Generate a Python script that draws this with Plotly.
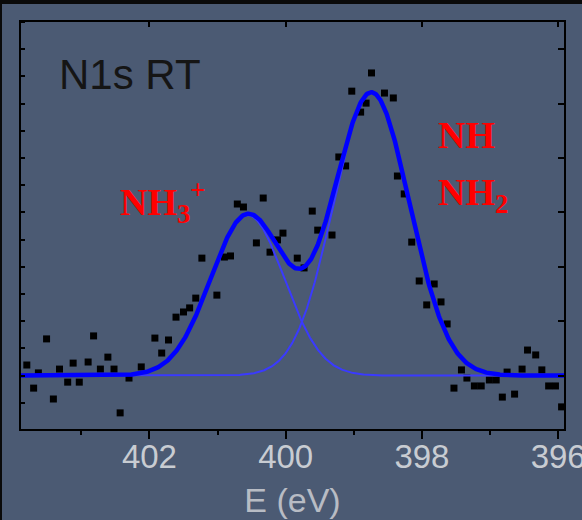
import numpy as np
import plotly.graph_objects as go

# Measured N 1s spectrum (binding energy in eV, intensity in arbitrary units)
energy_ev = [
    403.80, 403.70, 403.63, 403.51, 403.41, 403.32, 403.20, 403.12, 403.03, 402.90,
    402.82, 402.72, 402.61, 402.52, 402.43, 402.30, 402.12, 401.92, 401.82, 401.72,
    401.61, 401.50, 401.41, 401.32, 401.23, 401.01, 400.90, 400.81, 400.71, 400.62,
    400.43, 400.33, 400.23, 400.12, 400.04, 399.83, 399.73, 399.61, 399.53, 399.32,
    399.22, 399.12, 399.03, 398.90, 398.82, 398.74, 398.55, 398.42, 398.36, 398.26,
    398.15, 398.04, 397.93, 397.82, 397.72, 397.63, 397.42, 397.53, 397.34, 397.23,
    397.13, 397.01, 396.91, 396.82, 396.75, 396.64, 396.53, 396.45, 396.33, 396.24,
    396.14, 396.04, 395.95,
]
intensity = [
    2.39, 1.54, 2.10, 3.35, 1.14, 2.24, 1.76, 2.46, 1.76, 2.50,
    3.46, 2.24, 2.68, 2.24, 0.63, 1.91, 2.32, 3.38, 2.83, 3.31,
    4.15, 4.34, 4.49, 4.85, 6.32, 4.96, 6.36, 6.40, 8.31, 8.20,
    6.88, 8.53, 6.54, 6.99, 7.24, 6.32, 5.96, 8.05, 7.35, 7.17,
    10.04, 9.71, 12.46, 11.69, 12.02, 13.13, 12.39, 12.21, 9.34, 8.68,
    6.91, 5.48, 4.60, 5.37, 4.71, 3.90, 2.21, 1.54, 1.91, 1.62,
    1.62, 1.84, 1.84, 1.21, 2.13, 1.32, 2.24, 2.94, 2.76, 2.21,
    1.62, 1.62, 0.85,
]

# Gaussian fit components: NH3+ and NH / NH2
peak_center_ev = [400.56, 398.74]
peak_height = [5.9, 10.4]
peak_sigma_ev = [0.54, 0.56]
background = 2.0

x_range = [403.9, 395.9]
y_range = [0.0, 15.04]
x_tick_values = [402, 400, 398, 396]

BG = "#4b5a73"
FIT_BLUE = "#0000ff"
COMP_BLUE = "#3a3aff"

e_grid = np.linspace(x_range[0], x_range[1], 800)
components = [
    h * np.exp(-((e_grid - c) ** 2) / (2 * s ** 2))
    for c, h, s in zip(peak_center_ev, peak_height, peak_sigma_ev)
]
envelope = background + sum(components)

fig = go.Figure()

# data points (drawn beneath the fit curves)
fig.add_trace(go.Scatter(
    x=energy_ev, y=intensity, mode="markers",
    marker=dict(symbol="square", size=7, color="#000000", line=dict(width=0)),
    xaxis="x", yaxis="y", showlegend=False, hoverinfo="skip",
))

for comp in components:
    fig.add_trace(go.Scatter(
        x=e_grid, y=background + comp, mode="lines",
        line=dict(color=COMP_BLUE, width=2),
        xaxis="x2", yaxis="y2", showlegend=False, hoverinfo="skip",
    ))

fig.add_trace(go.Scatter(
    x=e_grid, y=envelope, mode="lines",
    line=dict(color=FIT_BLUE, width=4.5),
    xaxis="x2", yaxis="y2", showlegend=False, hoverinfo="skip",
))

tick_font = dict(family="Liberation Sans, Arial, sans-serif", size=33, color="#c8ccd2")

fig.update_layout(
    width=582, height=520,
    margin=dict(l=20, r=17, t=21, b=90, autoexpand=False),
    paper_bgcolor=BG, plot_bgcolor=BG,
    showlegend=False,
    xaxis=dict(
        range=x_range, tickvals=x_tick_values, ticktext=[str(v) for v in x_tick_values],
        ticks="outside", ticklen=8, tickwidth=2, tickcolor="#000000",
        minor=dict(dtick=1, tick0=396, ticks="outside", ticklen=4, tickwidth=2, tickcolor="#000000"),
        showline=False, showgrid=False, zeroline=False, automargin=False,
        ticklabeloverflow="allow", ticklabelstandoff=-11,
        tickfont=tick_font,
        title=dict(text="E (eV)", font=dict(family="Liberation Sans, Arial, sans-serif", size=34, color="#b8bcc4"), standoff=14),
    ),
    xaxis2=dict(
        range=x_range, overlaying="x", side="top", anchor="y",
        tickvals=x_tick_values, ticks="inside", ticklen=6, tickwidth=2, tickcolor="#000000",
        showticklabels=False, showgrid=False, zeroline=False, showline=False, automargin=False,
    ),
    yaxis=dict(
        range=y_range, tick0=0, dtick=1,
        ticks="inside", ticklen=5, tickwidth=2, tickcolor="#000000",
        showticklabels=False, showline=False,
        showgrid=False, zeroline=False, automargin=False,
    ),
    yaxis2=dict(
        range=y_range, overlaying="y", side="right", anchor="x",
        tick0=0, dtick=2, ticks="inside", ticklen=7, tickwidth=2, tickcolor="#000000",
        showticklabels=False, showgrid=False, zeroline=False, showline=False, automargin=False,
    ),
)

# plot frame
fig.add_shape(type="rect", xref="paper", yref="paper", x0=0, x1=1, y0=0, y1=1,
              line=dict(color="#000000", width=2), fillcolor="rgba(0,0,0,0)", layer="above")

# sample label
fig.add_annotation(
    x=403.35, y=13.09, xref="x", yref="y", text="N1s RT", showarrow=False,
    xanchor="left", yanchor="middle",
    font=dict(family="Liberation Sans, Arial, sans-serif", size=42, color="#151515"),
)

peak_font = dict(family="Liberation Serif, Times New Roman, serif", size=38, color="#ff0000")
fig.add_annotation(
    x=402.46, y=8.4, xref="x", yref="y", text="<b>NH<sub>3</sub><sup>+</sup></b>",
    showarrow=False, xanchor="left", yanchor="middle", font=peak_font,
)
fig.add_annotation(
    x=397.79, y=10.85, xref="x", yref="y", text="<b>NH</b>",
    showarrow=False, xanchor="left", yanchor="middle", font=peak_font,
)
fig.add_annotation(
    x=397.79, y=8.65, xref="x", yref="y", text="<b>NH<sub>2</sub></b>",
    showarrow=False, xanchor="left", yanchor="middle", font=peak_font,
)

# dark edges along the top and left of the page
fig.add_shape(type="rect", xref="paper", yref="paper",
              x0=-20 / 545, x1=1 + 17 / 545, y0=1 + 17 / 409, y1=1 + 21 / 409,
              fillcolor="#0a0a0a", line=dict(width=0), layer="below")
fig.add_shape(type="rect", xref="paper", yref="paper",
              x0=-20 / 545, x1=-18 / 545, y0=-90 / 409, y1=1 + 21 / 409,
              fillcolor="#0a0a0a", line=dict(width=0), layer="below")

fig.write_html("out.html", config={"staticPlot": True})
